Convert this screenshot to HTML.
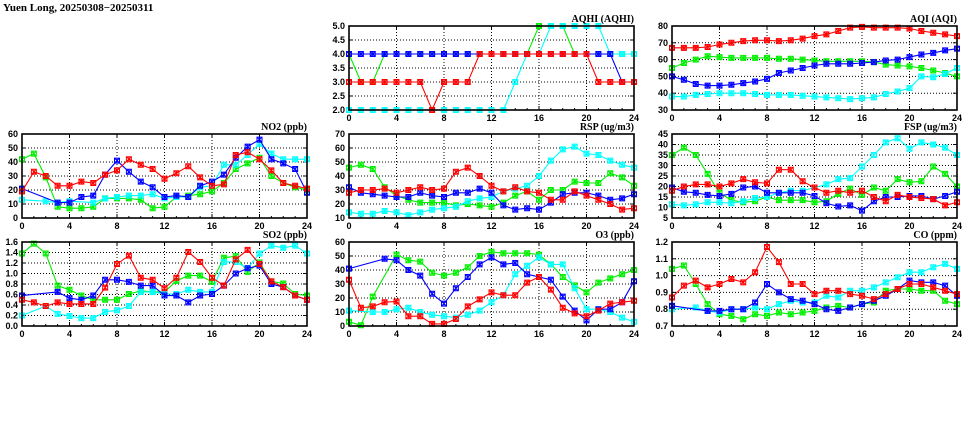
<!DOCTYPE html>
<html><head><meta charset="utf-8"><style>
html,body{margin:0;padding:0;background:#fff;width:975px;height:447px;overflow:hidden}
svg{display:block}
text{font-family:"Liberation Sans",sans-serif;font-weight:bold;font-size:9px;fill:#000}
.ttl{font-family:"Liberation Serif",serif;font-size:10px}
</style></head><body>
<svg id="chart" width="975" height="447" viewBox="0 0 975 447">
<text class="ttl" x="3" y="11" style="font-size:11px">Yuen Long, 20250308−20250311</text>
</svg>
<script>
const hours = [0,1,2,3,4,5,6,7,8,9,10,11,12,13,14,15,16,17,18,19,20,21,22,23,24];
const xTicks = [0,4,8,12,16,20,24];
const _ = null;

const no2Red   = [19,33,30,23,23,26,25,31,34,42,38,35,28,32,37,29,23,24,45,47,42,34,25,23,21];
const no2Green = [42,46,29,8,7,7,8,14,14,14,13,7,8,15,16,17,19,25,35,39,43,30,25,22,20];
const no2Blue  = [21,_,_,11,11,15,16,31,41,33,26,22,15,16,15,23,26,31,43,51,56,42,39,35,18];
const no2Cyan  = [13,_,12,11,12,_,11,14,15,16,16,17,14,15,15,22,23,38,38,45,53,46,42,42,42];
const no2Ticks = [0,10,20,30,40,50,60];

const so2Red   = [0.50,0.45,0.38,0.45,0.42,0.42,0.42,0.73,1.18,1.34,0.92,0.88,0.72,0.92,1.41,1.22,0.92,0.77,1.27,1.45,1.18,0.85,0.74,0.58,0.50];
const so2Green = [1.38,1.57,1.38,0.77,0.69,0.58,0.50,0.50,0.50,0.61,0.67,0.65,0.65,0.86,0.96,0.96,0.84,1.30,1.33,1.03,1.21,0.85,0.81,0.61,0.58];
const so2Blue  = [0.58,_,_,0.65,0.53,0.50,0.58,0.88,0.88,0.84,0.77,0.77,0.58,0.58,0.45,0.58,0.61,0.77,1.00,1.10,1.15,0.80,0.74,0.58,0.50];
const so2Cyan  = [0.20,_,0.38,0.23,0.19,0.15,0.15,0.27,0.30,0.38,0.65,0.65,0.61,0.61,0.69,0.65,0.65,1.22,1.22,1.10,1.38,1.53,1.49,1.53,1.38];
const so2Ticks = [0.0,0.2,0.4,0.6,0.8,1.0,1.2,1.4,1.6];

const aqhiRed   = [3,3,3,3,3,3,3,2,3,3,3,4,4,4,4,4,4,4,4,4,4,3,3,3,3];
const aqhiGreen = [4,3,3,4,4,4,4,4,4,4,4,4,4,4,4,4,5,5,5,4,4,4,4,4,4];
const aqhiBlue  = [4,4,4,4,4,4,4,4,4,4,4,4,4,4,4,4,4,4,4,4,4,4,4,3,3];
const aqhiCyan  = [2,2,2,2,2,2,2,2,2,2,2,2,2,2,3,4,4,5,5,5,5,5,4,4,4];
const aqhiTicks = [2.0,2.5,3.0,3.5,4.0,4.5,5.0];

const aqiRed   = [67,67,67,67.5,69,70,71,71.5,71.5,71,71.5,72.5,74,75,77,79,79.5,79,79,79,78.5,77,76,75,74];
const aqiGreen = [55,58,60,62,61.5,61,61,61,61,60.5,60.5,60,59.5,59,59,59,59,58.5,57,56.5,56,55,53.5,52,50];
const aqiBlue  = [50,48,45.5,44.5,44.5,45,46,47,48.5,52,53.5,55,56.5,57.5,57.5,57.5,58,58.5,59.5,60,61.5,63,64,65.5,66.5];
const aqiCyan  = [38,38,39,39.5,40,40,40,39.5,39,39,39,38.5,38,37.5,37,36.5,37,37.5,39.5,41,43,50,49.5,51.5,55];
const aqiTicks = [30,40,50,60,70,80];

const rspRed   = [28,30,30,31,28,30,32,30,31,43,46,40,33,29,32,29,28,23,23,29,26,23,20,16,17];
const rspGreen = [46,48,45,32,26,23,21,21,21,19,20,19,18,21,26,29,23,30,30,36,35,35,42,39,33];
const rspBlue  = [32,28,27,26,25,25,28,26,25,28,28,31,28,19,16,17,16,21,27,28,28,26,23,24,27];
const rspCyan  = [14,13,13,15,14,12,14,16,17,18,22,24,25,29,31,33,40,51,59,61,56,55,51,48,46];
const rspTicks = [10,20,30,40,50,60,70];

const fspRed   = [18,20,21,21,20,21.5,23.5,22,21.5,28,28,22.5,19.5,17,18,17,18,15,13,16,15,14.5,14,11,12.5];
const fspGreen = [35,38.5,35,26,17,13.5,12.5,13,15,13.5,13.5,13.5,12.5,13,16.5,19,16,19.5,18,23.5,22,22.5,29.5,26,20];
const fspBlue  = [19.5,17.5,17,16,15.5,16.5,19.5,20,17,17,17,17,15.5,12,10.5,11,8.5,13,15,15,15.5,15.5,14,15.5,17.5];
const fspCyan  = [11.5,11,11.5,12.5,12.5,12,13,14.5,15,17,18,18,19.5,21,23.5,24,29.5,35,41,43,38,41,40,38.5,35];
const fspTicks = [5,10,15,20,25,30,35,40,45];

const o3Red   = [33,13,14,17,17.5,7,7,1.5,1.5,5,14,19,24,22,22,31,35,26,13,9,7,11,16,17,18];
const o3Green = [3,0.5,21,_,51,47,46,38,36,38,42,50,53,52,52,52,51,44,35,29,24,31,34,37,40];
const o3Blue  = [41,_,_,48,47,40,36,23,16,27,35,44,49,44,45,37,35,33,21,11,4,12,12,17,32];
const o3Cyan  = [11,_,10,10,12,13,10,8,7,6,8,11,17,22,37,43,49,44,44,27,12,12,10,6,3];
const o3Ticks = [0,10,20,30,40,50,60];

const coRed   = [0.87,0.94,0.97,0.93,0.95,0.98,0.96,1.02,1.17,1.08,0.95,0.95,0.89,0.91,0.91,0.89,0.88,0.86,0.89,0.92,0.95,0.95,0.93,0.91,0.89];
const coGreen = [1.04,1.06,0.95,0.83,0.77,0.76,0.74,0.77,0.76,0.78,0.77,0.78,0.79,0.81,0.82,0.81,0.83,0.84,0.91,0.92,0.92,0.91,0.91,0.85,0.83];
const coBlue  = [0.82,_,_,0.79,0.79,0.80,0.80,0.84,0.95,0.90,0.86,0.85,0.83,0.80,0.79,0.81,0.83,0.85,0.88,0.92,0.97,0.96,0.96,0.94,0.88];
const coCyan  = [0.80,_,0.81,0.79,0.78,0.80,0.80,0.81,0.80,0.83,0.85,0.84,0.84,0.88,0.87,0.91,0.91,0.93,0.96,0.99,1.02,1.02,1.05,1.07,1.04];
const coTicks = [0.7,0.8,0.9,1.0,1.1,1.2];

const NS = "http://www.w3.org/2000/svg";
const svg = document.getElementById('chart');
const COLS = {red:'#ff0000', green:'#00ee00', blue:'#0000ff', cyan:'#00ffff'};

function mk(tag, attrs, parent){
  const e = document.createElementNS(NS, tag);
  for (const k in attrs) e.setAttribute(k, attrs[k]);
  (parent||svg).appendChild(e);
  return e;
}

function panel(key, title, x0, y0, ticks, dec, series){
  const W = 285, H = 84;
  const ymin = ticks[0], ymax = ticks[ticks.length-1];
  const sx = h => x0 + h / 24 * W;
  const sy = v => y0 + H - (v - ymin) / (ymax - ymin) * H;
  const g = mk('g', {});
  
  
  ticks.forEach((t, i) => {
    if (i > 0 && i < ticks.length-1) {
      const l = mk('line', {x1:x0, x2:x0+W, y1:sy(t), y2:sy(t), stroke:'#000', 'stroke-width':1, 'stroke-dasharray':'1,2'}, g);
      
      
    }
    mk('line', {x1:x0, x2:x0+4, y1:sy(t), y2:sy(t), stroke:'#000'}, g);
    mk('line', {x1:x0+W-4, x2:x0+W, y1:sy(t), y2:sy(t), stroke:'#000'}, g);
    const tx = mk('text', {x:x0-4, y:sy(t)+3, 'text-anchor':'end'}, g);
    tx.textContent = t.toFixed(dec);
    
    
  });
  xTicks.forEach((h, i) => {
    if (i > 0 && i < xTicks.length-1) {
      const l = mk('line', {x1:sx(h), x2:sx(h), y1:y0, y2:y0+H, stroke:'#000', 'stroke-width':1, 'stroke-dasharray':'1,2'}, g);
      
      
    }
    mk('line', {x1:sx(h), x2:sx(h), y1:y0+H-4, y2:y0+H, stroke:'#000'}, g);
    mk('line', {x1:sx(h), x2:sx(h), y1:y0, y2:y0+4, stroke:'#000'}, g);
    const tx = mk('text', {x:sx(h), y:y0+H+11, 'text-anchor':'middle'}, g);
    tx.textContent = h;
    
    
  });
  for (let h = 1; h < 24; h++) {
    mk('line', {x1:sx(h), x2:sx(h), y1:y0+H-2, y2:y0+H, stroke:'#000'}, g);
  }
  series.forEach(([name, data]) => {
    const c = COLS[name];
    const pts = [];
    data.forEach((v, i) => { if (v !== null) pts.push([sx(hours[i]), sy(v)]); });
    const pl = mk('polyline', {points: pts.map(p => p[0].toFixed(1)+','+p[1].toFixed(1)).join(' '), fill:'none', stroke:c, 'stroke-width':1.1}, g);
    
    
    pts.forEach(([px, py]) => {
      const m = mk('path', {d:`M${px-2.5},${py-2.5}h5v5h-5zM${px-2.5},${py-2.5}L${px+2.5},${py+2.5}M${px+2.5},${py-2.5}L${px-2.5},${py+2.5}M${px},${py-3}V${py+3}`, fill:'none', stroke:c, 'stroke-width':1}, g);
      
      
    });
  });
  const bd = mk('rect', {x:x0, y:y0, width:W, height:H, fill:'none', stroke:'#000', 'stroke-width':1.6}, g);
  
  
  const tt = mk('text', {x:x0+W, y:y0-4, 'text-anchor':'end', class:'ttl'}, g);
  tt.textContent = title;
  
  
}

const L = 22, M = 349, R = 672, T1 = 26, T2 = 134, T3 = 242;
panel('aqhi', 'AQHI (AQHI)', M, T1, aqhiTicks, 1, [['green',aqhiGreen],['cyan',aqhiCyan],['blue',aqhiBlue],['red',aqhiRed]]);
panel('aqi', 'AQI (AQI)', R, T1, aqiTicks, 0, [['green',aqiGreen],['cyan',aqiCyan],['blue',aqiBlue],['red',aqiRed]]);
panel('no2', 'NO2 (ppb)', L, T2, no2Ticks, 0, [['green',no2Green],['cyan',no2Cyan],['blue',no2Blue],['red',no2Red]]);
panel('rsp', 'RSP (ug/m3)', M, T2, rspTicks, 0, [['green',rspGreen],['cyan',rspCyan],['blue',rspBlue],['red',rspRed]]);
panel('fsp', 'FSP (ug/m3)', R, T2, fspTicks, 0, [['green',fspGreen],['cyan',fspCyan],['blue',fspBlue],['red',fspRed]]);
panel('so2', 'SO2 (ppb)', L, T3, so2Ticks, 1, [['green',so2Green],['cyan',so2Cyan],['blue',so2Blue],['red',so2Red]]);
panel('o3', 'O3 (ppb)', M, T3, o3Ticks, 0, [['green',o3Green],['cyan',o3Cyan],['blue',o3Blue],['red',o3Red]]);
panel('co', 'CO (ppm)', R, T3, coTicks, 1, [['green',coGreen],['cyan',coCyan],['blue',coBlue],['red',coRed]]);
</script>
</body></html>
